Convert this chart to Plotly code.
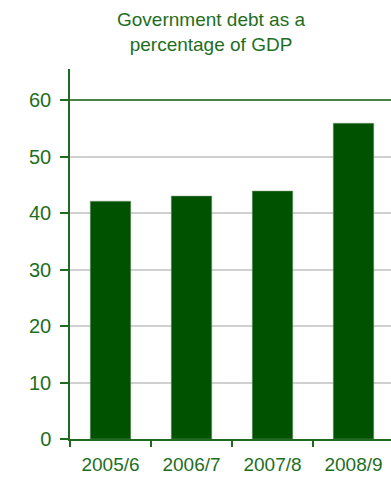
import plotly.graph_objects as go

categories = ["2005/6", "2006/7", "2007/8", "2008/9"]
debt_pct = [42.1, 43.0, 43.9, 55.9]
y_ticks = [0, 10, 20, 30, 40, 50, 60]

GREEN_TEXT = "#1e6e1e"
AXIS_GREEN = "#1f6a1f"
BAR_GREEN = "#005200"

fig = go.Figure()
fig.add_trace(go.Bar(
    x=categories, y=debt_pct,
    marker=dict(color=BAR_GREEN, line=dict(color="#7a9a7a", width=0.5)),
    width=0.5,
))

fig.add_shape(type="line", xref="paper", yref="y", x0=0, x1=1, y0=60, y1=60,
              line=dict(color=AXIS_GREEN, width=1.5), layer="above")

fig.update_layout(
    width=391, height=477,
    margin=dict(l=70, r=0, t=69, b=38, autoexpand=False),
    paper_bgcolor="white", plot_bgcolor="white",
    showlegend=False,
    font=dict(family="Liberation Sans, Arial, sans-serif", size=20, color=GREEN_TEXT),
    title=dict(text="Government debt as a<br>percentage of GDP",
               x=211/391, xanchor="center", y=1 - 26/477, yanchor="middle",
               font=dict(size=19, color=GREEN_TEXT)),
    xaxis=dict(
        range=[-0.5, 3.463], automargin=False,
        showline=True, linecolor=AXIS_GREEN, linewidth=1.5,
        ticks="outside", tickson="boundaries", ticklen=6, tickcolor=AXIS_GREEN, tickwidth=1.5,
        showgrid=False, tickfont=dict(size=19, color=GREEN_TEXT),
        ticklabelstandoff=7,
    ),
    yaxis=dict(
        range=[0, 65.5], automargin=False,
        tickvals=y_ticks,
        showline=True, linecolor=AXIS_GREEN, linewidth=1.5,
        ticks="outside", ticklen=8, tickcolor=AXIS_GREEN, tickwidth=1.5,
        showgrid=True, gridcolor="#d0d0d0", gridwidth=1.5,
        zeroline=False,
        tickfont=dict(size=20, color=GREEN_TEXT),
        ticklabelstandoff=5,
    ),
    bargap=0.5,
)

fig.write_html("out.html")
